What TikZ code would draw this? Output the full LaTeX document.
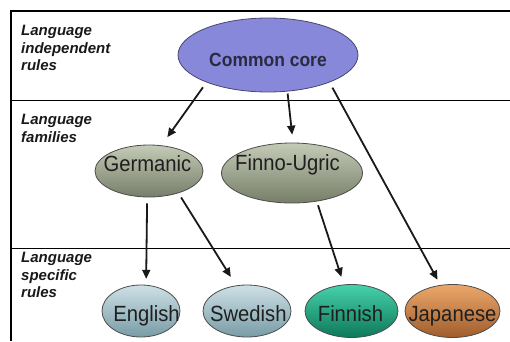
\documentclass[tikz,border=0pt]{standalone}
\usepackage{fontspec}
\setmainfont{Liberation Sans}
\usetikzlibrary{shapes.geometric}
\usetikzlibrary{arrows.meta}
\definecolor{corefill}{RGB}{136,136,218}
\definecolor{coreline}{RGB}{70,70,110}
\definecolor{famtop}{RGB}{196,202,182}
\definecolor{fambot}{RGB}{118,126,104}
\definecolor{spectop}{RGB}{206,224,230}
\definecolor{specbot}{RGB}{120,156,166}
\definecolor{finntop}{RGB}{70,210,170}
\definecolor{finnbot}{RGB}{14,120,90}
\definecolor{japtop}{RGB}{236,168,106}
\definecolor{japbot}{RGB}{160,92,44}
\newcommand{\narrow}[1]{\scalebox{0.92}[1]{#1}}
\tikzset{
  lvl/.style={ellipse, draw=black!70, line width=0.8pt, inner sep=0pt},
  corenode/.style={lvl, draw=coreline, fill=corefill},
  famnode/.style={lvl, top color=famtop, bottom color=fambot},
  specnode/.style={lvl, top color=#1top, bottom color=#1bot},
  nm/.style={anchor=base, inner sep=0pt, text=black!88, font=\fontsize{22}{26}\selectfont},
  rowlabel/.style={anchor=north west, inner sep=0pt, align=left, text=black!90,
    font=\fontsize{15}{17.5}\selectfont\bfseries\itshape},
  link/.style={-{Triangle[length=9pt,width=8pt]}, line width=1.8pt, black!90}
}
\begin{document}
\begin{tikzpicture}[x=1pt,y=1pt]
\useasboundingbox (0,0) rectangle (510,341);
\draw[line width=1.6pt] (510,330) -- (11,330) -- (11,0);
\draw[line width=0.9pt] (11,241) -- (510,241);
\draw[line width=0.9pt] (11,93) -- (510,93);
\node[rowlabel] (lab1) at (21,316) {Language\\independent\\rules};
\node[rowlabel] (lab2) at (21,227) {Language\\families};
\node[rowlabel] (lab3) at (21,89) {Language\\specific\\rules};
\node[corenode, minimum width=180pt, minimum height=74pt] (core) at (268,286) {};
\node[famnode, minimum width=108pt, minimum height=52pt] (germ) at (149,170) {};
\node[famnode, minimum width=141pt, minimum height=60pt] (fu) at (292,168) {};
\node[specnode=spec, minimum width=78pt, minimum height=52pt] (eng) at (141,30) {};
\node[specnode=spec, minimum width=88pt, minimum height=52pt] (swe) at (247,30) {};
\node[specnode=finn, minimum width=93pt, minimum height=53pt] (fin) at (351.5,30) {};
\node[specnode=jap, minimum width=95pt, minimum height=53pt] (jap) at (452.5,30) {};
\node[nm, text=coreline!60!black, font=\fontsize{19}{22}\selectfont\bfseries] (coretxt) at (268,274.3) {\narrow{Common core}};
\node[nm] (germtxt) at (147.5,169.3) {\narrow{Germanic}};
\node[nm] (futxt) at (287.5,171) {\narrow{Finno-Ugric}};
\node[nm] (engtxt) at (146.5,19.3) {\narrow{English}};
\node[nm] (swetxt) at (248.3,19.3) {\narrow{Swedish}};
\node[nm] (fintxt) at (350.5,19.3) {\narrow{Finnish}};
\node[nm] (japtxt) at (452.5,19.3) {\narrow{Japanese}};
\draw[link, shorten <=6pt, shorten >=10pt] (core.204) -- (germ.64);
\draw[link, shorten <=2pt, shorten >=8pt] (core.298) -- (fu.88);
\draw[link, shorten <=6pt, shorten >=6pt] (core.336) -- (jap.115);
\draw[link, shorten <=6pt, shorten >=6pt] (germ.266) -- (eng.79);
\draw[link, shorten <=5pt, shorten >=10pt] (germ.323) -- (swe.113);
\draw[link, shorten <=4pt, shorten >=8pt] (fu.311) -- (fin.106);
\end{tikzpicture}
\end{document}
